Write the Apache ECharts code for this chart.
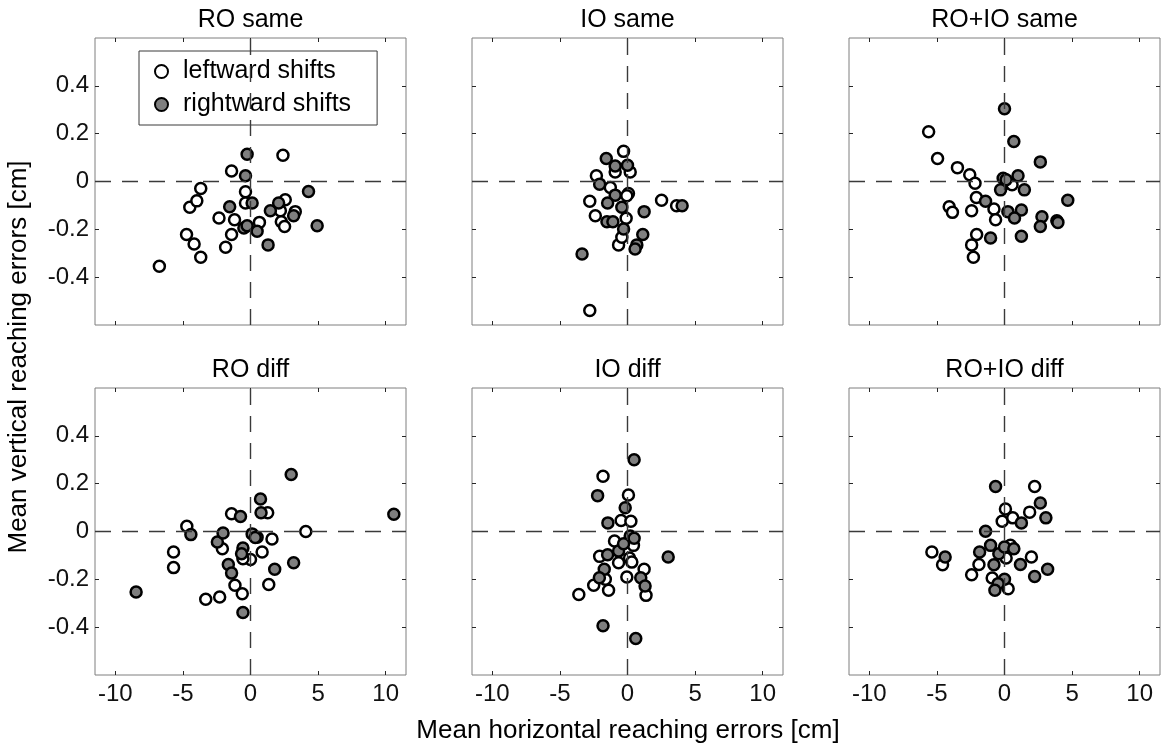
<!DOCTYPE html>
<html>
<head>
<meta charset="utf-8">
<script src="https://cdn.jsdelivr.net/npm/echarts@6/dist/echarts.min.js"></script>
<style>html,body{margin:0;padding:0;background:#fff}#c{width:1161px;height:747px}</style>
</head>
<body>
<div id="c"></div>
<script>
// ---------------- data ----------------
const panelTitles = ['RO same', 'IO same', 'RO+IO same', 'RO diff', 'IO diff', 'RO+IO diff'];
const seriesNames = ['leftward shifts', 'rightward shifts'];
const xTicks = [-10, -5, 0, 5, 10];
const yTicks = [-0.4, -0.2, 0, 0.2, 0.4];
const xLabel = 'Mean horizontal reaching errors [cm]';
const yLabel = 'Mean vertical reaching errors [cm]';

const roSameLeft = [[-6.74,-0.354],[-3.68,-0.317],[-4.17,-0.261],[-4.73,-0.222],[-1.84,-0.275],[-1.40,-0.222],[-2.33,-0.153],[-1.18,-0.160],[-4.49,-0.108],[-3.97,-0.081],[-3.68,-0.029],[-1.40,0.044],[-0.37,-0.043],[-0.37,-0.090],[0.66,-0.171],[2.40,0.110],[2.57,-0.076],[2.21,-0.122],[2.28,-0.168],[2.52,-0.188],[3.31,-0.126]];
const roSameRight = [[-0.25,0.114],[-0.37,0.024],[-1.54,-0.106],[0.12,-0.090],[-0.49,-0.194],[0.49,-0.208],[1.30,-0.265],[1.47,-0.122],[2.08,-0.090],[3.19,-0.143],[4.29,-0.042],[4.93,-0.185],[-0.25,-0.185]];

const ioSameLeft = [[-2.79,-0.539],[-0.29,0.126],[-0.91,0.040],[0.20,0.040],[-2.30,0.024],[-1.27,-0.025],[0.07,-0.050],[-2.79,-0.083],[2.52,-0.078],[3.63,-0.101],[-2.38,-0.143],[-0.10,-0.154],[-0.66,-0.265],[-0.42,-0.233],[-0.05,-0.060]];
const ioSameRight = [[-1.57,0.096],[-0.91,0.065],[0.0,0.068],[-2.06,-0.011],[-0.91,-0.057],[-1.47,-0.090],[-0.42,-0.108],[1.23,-0.126],[4.04,-0.101],[-1.52,-0.168],[-1.08,-0.168],[-0.29,-0.199],[1.13,-0.222],[0.69,-0.265],[0.56,-0.282],[-3.36,-0.303]];

const bothSameLeft = [[-5.61,0.208],[-4.95,0.096],[-3.48,0.058],[-2.57,0.028],[-2.18,-0.007],[-2.08,-0.067],[-4.09,-0.106],[-3.85,-0.129],[-2.43,-0.122],[-0.78,-0.115],[-0.66,-0.160],[-2.06,-0.222],[-2.43,-0.265],[-2.30,-0.317],[0.32,-0.007],[0.56,-0.014]];
const bothSameRight = [[0,0.304],[0.69,0.167],[2.65,0.082],[-0.10,0.014],[0.12,0.007],[1.0,0.024],[-0.29,-0.035],[1.47,-0.035],[-1.40,-0.083],[4.68,-0.078],[0.25,-0.126],[1.25,-0.119],[0.74,-0.153],[2.77,-0.147],[2.65,-0.188],[3.87,-0.164],[3.95,-0.171],[-1.03,-0.236],[1.25,-0.229]];

const roDiffLeft = [[-4.71,0.022],[-5.69,-0.086],[-5.69,-0.151],[-3.31,-0.283],[-2.28,-0.274],[-1.15,-0.225],[-0.61,-0.260],[-1.40,0.074],[1.27,0.078],[4.09,0.0],[1.59,-0.031],[0.86,-0.086],[1.35,-0.222],[-2.08,-0.072],[0.0,-0.117],[-0.56,-0.114],[0.49,-0.024]];
const roDiffRight = [[-8.46,-0.253],[-4.41,-0.013],[-2.45,-0.044],[-2.03,-0.006],[-1.64,-0.138],[-1.40,-0.174],[-0.56,-0.339],[-0.74,0.063],[0.74,0.136],[0.78,0.078],[0.12,-0.010],[0.35,-0.025],[-0.56,-0.069],[-0.66,-0.093],[1.79,-0.158],[3.19,-0.131],[3.01,0.238],[10.6,0.072]];

const ioDiffLeft = [[-1.81,0.231],[0.07,0.153],[-0.47,0.046],[0.25,0.043],[-0.96,-0.040],[0.44,-0.058],[-2.06,-0.104],[-0.66,-0.131],[0.15,-0.111],[0.32,-0.128],[1.23,-0.158],[-0.05,-0.190],[-2.50,-0.225],[-1.40,-0.246],[-3.60,-0.263],[1.37,-0.267],[-1.64,-0.200]];
const ioDiffRight = [[0.49,0.300],[-2.21,0.150],[-0.17,0.099],[-1.45,0.036],[0.20,-0.019],[0.49,-0.028],[-0.66,-0.082],[-1.47,-0.097],[3.01,-0.107],[-1.72,-0.158],[-2.08,-0.193],[0.98,-0.193],[1.30,-0.228],[-1.81,-0.394],[0.61,-0.447],[-0.29,-0.051]];

const bothDiffLeft = [[2.23,0.188],[0.07,0.094],[-0.17,0.043],[0.61,0.057],[1.86,0.081],[-5.37,-0.086],[-4.58,-0.139],[-1.89,-0.138],[-2.43,-0.181],[1.99,-0.107],[0.12,-0.111],[-0.91,-0.194],[0.27,-0.239],[0.44,-0.058]];
const bothDiffRight = [[-0.66,0.188],[2.65,0.119],[3.06,0.057],[1.25,0.036],[-1.40,0.001],[-4.39,-0.107],[-1.84,-0.086],[-1.03,-0.058],[-0.42,-0.093],[0.0,-0.065],[0.69,-0.072],[-0.78,-0.139],[1.18,-0.138],[3.19,-0.158],[2.23,-0.188],[0.0,-0.200],[-0.47,-0.218],[-0.71,-0.246]];

const panelLeft = [roSameLeft, ioSameLeft, bothSameLeft, roDiffLeft, ioDiffLeft, bothDiffLeft];
const panelRight = [roSameRight, ioSameRight, bothSameRight, roDiffRight, ioDiffRight, bothDiffRight];

// ---------------- layout ----------------
const FONT = '"Liberation Sans", Arial, Helvetica, sans-serif';
const colLeft = [95, 472, 849];
const rowTop = [38, 388];
const W = 311, H = 287;
const XMIN = -11.5, XMAX = 11.5, YMIN = -0.6, YMAX = 0.6;
const tickColor = '#262626';
const textColor = '#111';

const grids = [], xAxes = [], yAxes = [], series = [], titles = [];
for (let i = 0; i < 6; i++) {
  const r = Math.floor(i / 3), c = i % 3;
  grids.push({left: colLeft[c], top: rowTop[r], width: W, height: H, show: true,
    borderColor: '#7f7f7f', borderWidth: 1, backgroundColor: '#fff', containLabel: false});
  const showX = r === 1, showY = c === 0;
  const tick = {show: true, inside: true, length: 4, lineStyle: {color: tickColor, width: 1}};
  // bottom x
  xAxes.push({type: 'value', gridIndex: i, position: 'bottom', min: XMIN, max: XMAX,
    axisLine: {show: false, onZero: false}, splitLine: {show: false},
    axisTick: Object.assign({customValues: xTicks}, tick),
    axisLabel: {show: showX, customValues: xTicks, margin: 7, fontSize: 24, color: textColor, fontFamily: FONT,
      formatter: v => String(v)}});
  // top x (ticks only)
  xAxes.push({type: 'value', gridIndex: i, position: 'top', min: XMIN, max: XMAX,
    axisLine: {show: false, onZero: false}, splitLine: {show: false},
    axisTick: Object.assign({customValues: xTicks}, tick),
    axisLabel: {show: false}});
  // left y
  yAxes.push({type: 'value', gridIndex: i, position: 'left', min: YMIN, max: YMAX,
    axisLine: {show: false, onZero: false}, splitLine: {show: false},
    axisTick: Object.assign({customValues: yTicks}, tick),
    axisLabel: {show: showY, customValues: yTicks, margin: 6, fontSize: 24, color: textColor, fontFamily: FONT,
      formatter: v => String(v)}});
  // right y (ticks only)
  yAxes.push({type: 'value', gridIndex: i, position: 'right', min: YMIN, max: YMAX,
    axisLine: {show: false, onZero: false}, splitLine: {show: false},
    axisTick: Object.assign({customValues: yTicks}, tick),
    axisLabel: {show: false}});

  const xi = i * 2, yi = i * 2;
  // dashed zero lines
  series.push({type: 'scatter', xAxisIndex: xi, yAxisIndex: yi, data: [], z: 1, silent: true,
    markLine: {silent: true, symbol: ['none', 'none'], label: {show: false},
      lineStyle: {type: [16, 11], color: '#3a3a3a', width: 1.4},
      data: [{xAxis: 0}, {yAxis: 0}]}});
  series.push({type: 'scatter', name: seriesNames[0], xAxisIndex: xi, yAxisIndex: yi, z: 3,
    data: panelLeft[i], symbol: 'circle', symbolSize: 11,
    itemStyle: {color: '#ffffff', borderColor: '#000', borderWidth: 2.5, opacity: 1}});
  series.push({type: 'scatter', name: seriesNames[1], xAxisIndex: xi, yAxisIndex: yi, z: 4,
    data: panelRight[i], symbol: 'circle', symbolSize: 11,
    itemStyle: {color: '#7f7f7f', borderColor: '#000', borderWidth: 2.5, opacity: 1}});

  titles.push({text: panelTitles[i], left: colLeft[c] + W / 2, top: rowTop[r] - 30, textAlign: 'center', padding: 0,
    textStyle: {fontSize: 25, fontWeight: 'normal', color: '#000', fontFamily: FONT}});
}

const option = {
  animation: false,
  backgroundColor: '#fff',
  title: titles,
  grid: grids,
  xAxis: xAxes,
  yAxis: yAxes,
  series: series,
  legend: {
    data: seriesNames, left: 139, top: 51, orient: 'vertical',
    backgroundColor: '#fff', borderColor: '#3a3a3a', borderWidth: 1,
    padding: [8, 26, 8, 15], itemGap: 8, itemWidth: 13, itemHeight: 13,
    icon: 'circle', selectedMode: false,
    textStyle: {fontSize: 25, color: '#000', fontFamily: FONT, padding: [0, 0, 0, 10]}
  },
  graphic: [
    {type: 'text', x: 628, y: 731, silent: true,
     style: {text: xLabel, font: '26px ' + FONT, fill: '#000', textAlign: 'center', textVerticalAlign: 'middle', align: 'center', verticalAlign: 'middle'}},
    {type: 'text', x: 19, y: 357, rotation: Math.PI / 2, silent: true,
     style: {text: yLabel, font: '26px ' + FONT, fill: '#000', textAlign: 'center', textVerticalAlign: 'middle', align: 'center', verticalAlign: 'middle'}}
  ]
};
const chart = echarts.init(document.getElementById('c'), null, {renderer: 'canvas'});
chart.setOption(option);
</script>
</body>
</html>
